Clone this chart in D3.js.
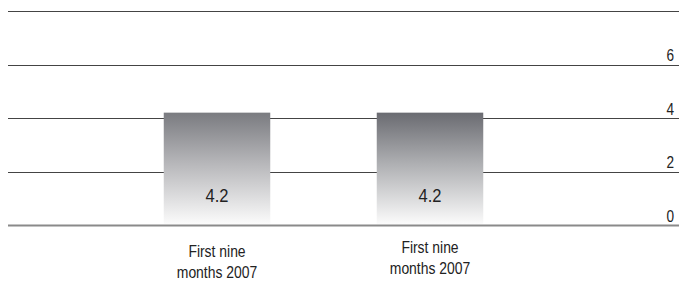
<!DOCTYPE html>
<html>
<head>
<meta charset="utf-8">
<script src="https://cdn.jsdelivr.net/npm/d3@7"></script>
<style>
  html, body { margin: 0; padding: 0; background: #fff; }
  svg { display: block; }
  text { font-family: "Liberation Sans", Arial, sans-serif; fill: #222; }
</style>
</head>
<body>
<div id="chart"></div>
<script>
// ─── Data ───
const categories = ["a", "b"];
const categoryLabels = [["First nine", "months 2007"], ["First nine", "months 2007"]];
const values = [4.2, 4.2];
const yTicks = [0, 2, 4, 6, 8];
const barTopColors = ["#7a7b80", "#6a6b71"];

const width = 679;
const height = 282;

const svg = d3.select("#chart").append("svg")
  .attr("width", width)
  .attr("height", height);

const x = d3.scaleBand()
  .domain(categories)
  .range([4, 643])
  .paddingInner(0.5)
  .paddingOuter(0.75);

const y = d3.scaleLinear().domain([0, 8]).range([225, 11]);

// ── Gradients ──
const defs = svg.append("defs");
barTopColors.forEach((c, i) => {
  const g = defs.append("linearGradient")
    .attr("id", "bar-grad-" + i)
    .attr("x1", 0).attr("y1", 0).attr("x2", 0).attr("y2", 1);
  g.append("stop").attr("offset", "0%").attr("stop-color", c);
  g.append("stop").attr("offset", "45%").attr("stop-color", d3.interpolateRgb(c, "#ffffff")(0.45));
  g.append("stop").attr("offset", "100%").attr("stop-color", "#fbfbfb");
});

// ── Gridlines ──
svg.append("g")
  .selectAll("line")
  .data(yTicks)
  .join("line")
  .attr("x1", 8)
  .attr("x2", width)
  .attr("y1", (d) => Math.round(y(d)) + 0.5)
  .attr("y2", (d) => Math.round(y(d)) + 0.5)
  .attr("stroke", (d) => (d === 0 ? "#8a8a8a" : "#444"))
  .attr("stroke-width", (d) => (d === 0 ? 2 : 1));

// ── Tick labels (condensed) ──
svg.append("g")
  .selectAll("text")
  .data(yTicks.filter((d) => d < 8))
  .join("text")
  .attr("text-anchor", "end")
  .attr("transform", (d) => `translate(674,${y(d) - 3.5}) scale(0.85,1)`)
  .style("font-size", "16px")
  .text((d) => d);

// ── Bars ──
svg.append("g")
  .selectAll("rect")
  .data(values)
  .join("rect")
  .attr("x", (d, i) => x(categories[i]))
  .attr("width", x.bandwidth())
  .attr("y", (d) => y(d))
  .attr("height", (d) => y(0) - y(d) - 1)
  .attr("fill", (d, i) => `url(#bar-grad-${i})`);

// ── Value labels ──
svg.append("g")
  .selectAll("text")
  .data(values)
  .join("text")
  .attr("text-anchor", "middle")
  .attr("transform", (d, i) =>
    `translate(${x(categories[i]) + x.bandwidth() / 2},202) scale(0.92,1)`)
  .style("font-size", "18px")
  .text((d) => d.toFixed(1));

// ── Category labels (condensed) ──
const labelBaselines = [257, 253];
categoryLabels.forEach((lines, i) => {
  const cx = x(categories[i]) + x.bandwidth() / 2;
  const t = svg.append("text")
    .attr("text-anchor", "middle")
    .attr("transform", `translate(${cx},${labelBaselines[i]}) scale(0.87,1)`)
    .style("font-size", "16px");
  lines.forEach((l, j) => {
    t.append("tspan")
      .attr("x", 0)
      .attr("dy", j === 0 ? 0 : 21.5)
      .text(l);
  });
});
</script>
</body>
</html>
